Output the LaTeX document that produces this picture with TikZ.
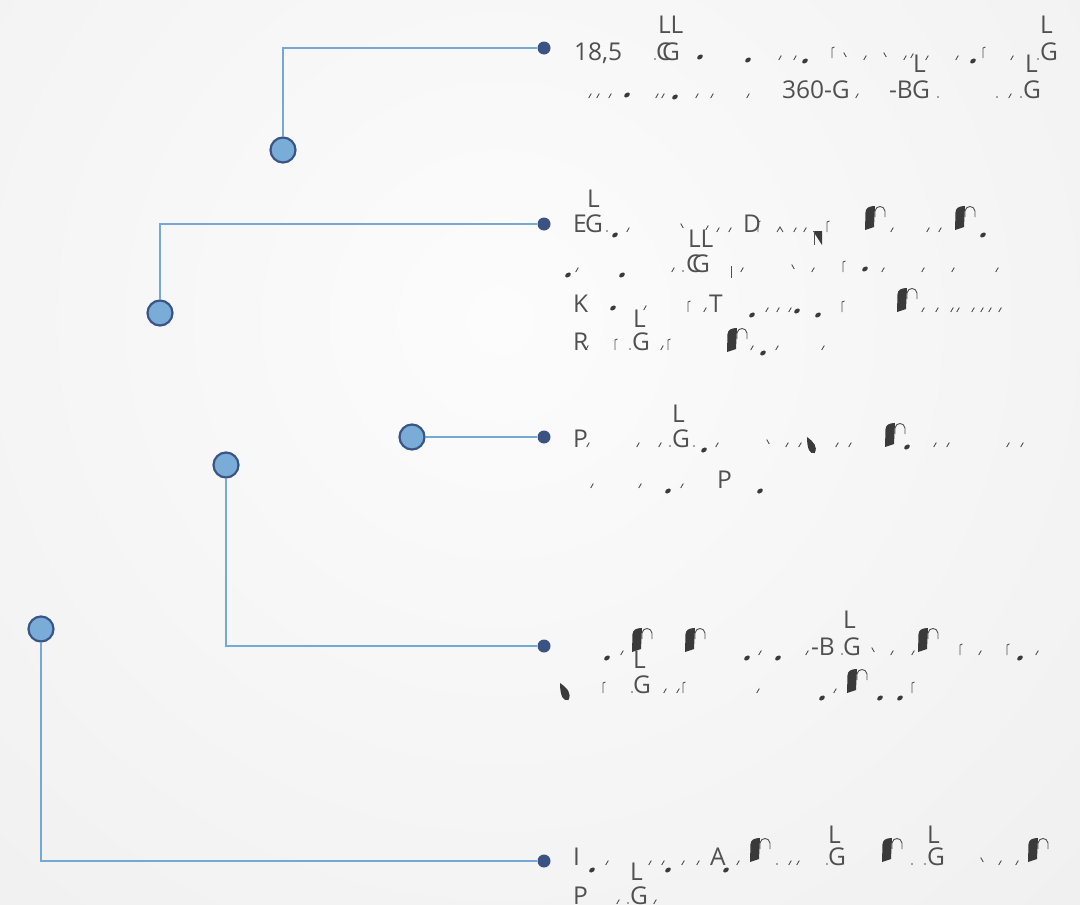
\documentclass[tikz,border=0pt]{standalone}
\usepackage{fontspec}
\setmainfont{Open Sans}
\definecolor{bgin}{HTML}{FCFCFC}
\definecolor{bgout}{HTML}{E6E6E6}
\definecolor{cfill}{HTML}{79ACD6}
\definecolor{cdraw}{HTML}{3A5488}
\definecolor{dotc}{HTML}{3B5383}
\definecolor{linec}{HTML}{74A9D6}
\definecolor{txtc}{HTML}{505050}
\definecolor{ink}{HTML}{3A3A3A}
\tikzset{
  bigc/.style={circle, minimum size=25pt, inner sep=0pt, fill=cfill, draw=cdraw, line width=2.2pt},
  dotn/.style={circle, minimum size=13pt, inner sep=0pt, fill=dotc},
  conn/.style={draw=linec, line width=2.6pt},
  txt/.style={anchor=base west, inner sep=0pt, outer sep=0pt, text=txtc, font=\fontsize{24.5}{28}\selectfont},
  fragstroke/.style={draw=txtc, line width=0.9pt},
}
\newcommand\tx[4]{\node[txt] (#1) at (#2,#3) {#4};}
\newcommand\cm[2]{\draw[fragstroke] (#1-1.3,#2) -- (#1+1.3,#2-4.5);}
\newcommand\cmb[2]{\draw[fragstroke] (#1-1.3,#2-4.5) -- (#1+1.3,#2);}
\newcommand\db[2]{\fill[ink,rotate around={35:(#1,#2)}] (#1,#2) ellipse [x radius=3.2, y radius=2.1];}
\newcommand\dc[2]{\fill[txtc] (#1,#2) circle [radius=0.9];}
\newcommand\rr[2]{\draw[fragstroke] (#1,#2) -- (#1,#2-10) -- (#1+2.5,#2-11);}
\newcommand\bn[2]{%
  \fill[ink] (#1,#2+25) -- (#1+0.5,#2+7) .. controls (#1+1,#2+3) and (#1+4,#2+1) .. (#1+10,#2+1) -- (#1+9,#2+22) -- cycle;
  \draw[fragstroke] (#1+10,#2+12) -- (#1+10,#2+6) .. controls (#1+11,#2) and (#1+19,#2) .. (#1+20,#2+6) -- (#1+20,#2+12);}
\newcommand\drop[4]{\fill[ink] (#1,#2) .. controls (#1+#3*0.6,#2+#4*0.3) and (#1+#3,#2+#4*0.6) .. (#1+#3*0.7,#2+#4) .. controls (#1+#3*0.3,#2+#4*1.1) and (#1,#2+#4*0.8) .. cycle;}
\begin{document}
\begin{tikzpicture}[x=1pt,y=-1pt]
\useasboundingbox (0,0) rectangle (1080,905);
\fill[bgout] (0,0) rectangle (1080,905);
\shade[inner color=bgin, outer color=bgout] (500,320) circle [radius=1500];

% big circles
\node[bigc] (c1) at (283,150) {};
\node[bigc] (c2) at (160,313) {};
\node[bigc] (c3) at (412,437) {};
\node[bigc] (c4) at (226,465) {};
\node[bigc] (c5) at (41,629) {};
% small dots
\node[dotn] (d1) at (544,48) {};
\node[dotn] (d2) at (544,224) {};
\node[dotn] (d3) at (544,437) {};
\node[dotn] (d4) at (544,646) {};
\node[dotn] (d5) at (544,861) {};
% connectors
\draw[conn] (c1) |- (d1);
\draw[conn] (c2) |- (d2);
\draw[conn] (c3) -- (d3);
\draw[conn] (c4) |- (d4);
\draw[conn] (c5) |- (d5);

% ---------- block 1 ----------
\tx{a1}{574}{60}{18,5}
\tx{a2}{658}{33}{LL}
\dc{655}{59}
\tx{a3}{656}{60}{C}
\tx{a4}{662}{60}{G}
\db{700}{57}
\db{748}{60}
\cm{780}{60}\cm{795}{60}
\db{805}{61}
\rr{832}{58}
\cmb{845}{57}\cm{865}{60}\cmb{885}{57}\cm{905}{60}\cm{912}{58}\cm{927}{60}
\tx{a5}{913}{72}{L}
\cm{957}{60}\db{973}{61}\rr{983}{58}\cm{1012}{60}\dc{1038}{59}
\tx{a6}{1040}{60}{G}
\tx{a7}{1040}{33}{L}
\tx{a8}{1025}{72}{L}
% line 2
\cm{590}{98}\cm{598}{98}\cm{610}{98}\db{627}{95}
\cm{657}{98}\cm{663}{98}\db{675}{97}\cm{697}{98}\cm{712}{98}\cm{748}{98}
\tx{a9}{782}{98}{360-G}
\cm{857}{98}
\tx{a10}{889}{98}{-B}
\tx{a11}{912}{98}{G}
\dc{938}{97}
\dc{997}{97}\cm{1010}{98}\dc{1021}{97}
\tx{a12}{1023}{98}{G}

% ---------- block 2 ----------
\tx{b1}{587}{207}{L}
\tx{b2}{573}{232}{E}
\tx{b3}{585}{232}{G}
\dc{607}{231}\db{615}{235}\cm{628}{232}
\cmb{682}{228}
\tx{b4}{688}{247}{LL}
\cm{707}{230}\cm{718}{232}\cm{730}{232}
\tx{b5}{743}{232}{D}
\rr{758}{232}
\draw[fragstroke] (777,232) -- (780,227) -- (783,232);
\cm{795}{232}\cm{805}{232}
\fill[ink] (813,231) -- (822,231) -- (822,245) -- cycle;
\draw[fragstroke] (814,231) -- (814,245);
\rr{827}{232}
\bn{865}{205}
\cm{892}{232}\cm{928}{232}\cm{940}{232}
\bn{955}{205}
\db{983}{235}
% line 2.2
\db{568}{275}\cm{577}{272}\db{622}{275}
\cm{673}{272}\dc{683}{271}
\tx{b6}{686}{272}{C}
\tx{b7}{692}{272}{G}
\draw[fragstroke] (731,266) -- (731,278);\cm{742}{272}
\cmb{793}{269}\cm{813}{272}
\rr{843}{272}\db{865}{269}\cm{883}{272}
\cm{923}{272}\cm{953}{272}\cm{997}{272}
% line 2.3
\tx{b8}{573}{312}{K}
\db{613}{308}
\tx{b9}{633}{327}{L}
\cm{645}{310}
\rr{688}{312}\cm{705}{312}
\tx{b10}{709}{312}{T}
\db{752}{315}\cm{767}{312}\cm{778}{312}\cm{790}{312}\db{797}{311}\db{818}{315}\rr{842}{312}
\bn{897}{287}
\cm{923}{312}\cm{937}{312}\cm{952}{312}\cm{958}{312}\cm{973}{312}\cm{982}{312}\cm{990}{312}\cm{1000}{312}
% line 2.4
\tx{b11}{573}{350}{R}
\cm{587}{350}\rr{615}{350}\dc{630}{349}
\tx{b12}{632}{350}{G}
\cm{662}{350}\rr{668}{350}
\bn{727}{327}
\cm{752}{350}\db{763}{353}\cm{777}{350}\cm{823}{350}

% ---------- block 3 ----------
\tx{c1t}{573}{447}{P}
\cm{588}{447}\cm{638}{447}\cm{660}{447}\dc{670}{446}
\tx{c2t}{672}{447}{G}
\tx{c3t}{672}{422}{L}
\dc{694}{446}\db{704}{450}\cm{717}{447}
\cmb{768}{444}\cm{787}{447}\cm{800}{447}
\drop{807}{437}{11}{16}
\cm{837}{447}\cm{850}{447}
\bn{885}{422}
\db{907}{447}
\cm{935}{447}\cm{948}{447}\cm{1008}{447}\cm{1022}{447}
% line 3.2
\cm{592}{488}\cm{640}{488}\db{668}{491}\cm{682}{488}
\tx{c4t}{717}{488}{P}
\db{760}{491}

% ---------- block 4 ----------
\db{607}{658}\cm{622}{655}
\bn{632}{627}
\tx{d1t}{633}{668}{L}
\bn{685}{627}
\db{747}{658}\cm{760}{655}\db{778}{658}
\cm{807}{655}
\tx{d2t}{811}{655}{-B}
\dc{842}{654}
\tx{d3t}{843}{655}{G}
\tx{d4t}{843}{628}{L}
\cmb{873}{652}\cm{892}{655}\cm{913}{655}
\bn{918}{627}
\rr{960}{655}\cm{980}{655}\rr{1007}{655}\db{1020}{658}\cm{1037}{655}
% line 4.2
\drop{560}{683}{12}{17}
\rr{603}{693}\dc{632}{692}
\tx{d5t}{633}{693}{G}
\cm{665}{693}\cm{678}{693}\rr{683}{693}
\cm{758}{693}
\db{822}{698}\cm{835}{693}
\bn{847}{668}
\db{880}{698}\db{900}{698}\rr{912}{693}

% ---------- block 5 ----------
\tx{e1t}{573}{865}{I}
\db{592}{870}\cm{607}{865}
\tx{e2t}{630}{880}{L}
\cm{650}{865}\cm{663}{865}\db{668}{870}\cm{683}{865}\cm{698}{865}
\tx{e3t}{710}{865}{A}
\db{726}{870}\cm{738}{865}
\bn{750}{837}
\dc{777}{864}\cm{790}{865}\cm{798}{865}
\dc{827}{864}
\tx{e4t}{828}{865}{G}
\tx{e5t}{828}{843}{L}
\bn{882}{837}
\dc{912}{864}\dc{925}{864}
\tx{e6t}{927}{865}{G}
\tx{e7t}{927}{843}{L}
\cmb{982}{862}\cm{1000}{865}\cm{1017}{865}
\bn{1028}{837}
% line 5.2
\tx{e8t}{573}{904}{P}
\cm{618}{904}\dc{628}{903}
\tx{e9t}{630}{904}{G}
\cm{655}{904}
\end{tikzpicture}
\end{document}
